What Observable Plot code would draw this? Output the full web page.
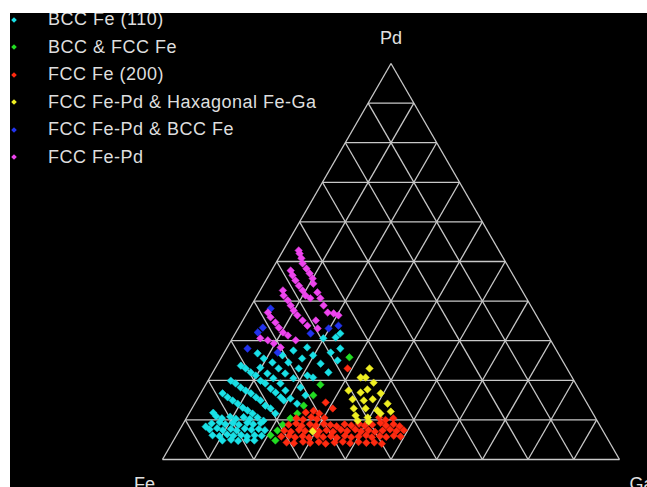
<!DOCTYPE html>
<html><head><meta charset="utf-8">
<script src="https://cdn.jsdelivr.net/npm/d3@7"></script>
<script src="https://cdn.jsdelivr.net/npm/@observablehq/plot@0.6"></script>
<style>
html,body{margin:0;padding:0;background:#fff;}
#wrap{position:absolute;left:10px;top:13px;width:637px;height:474px;background:#000;overflow:hidden;}
#chart svg{display:block;}
#legend{position:absolute;left:0;top:-7px;font-family:"Liberation Sans",Arial,sans-serif;font-size:18px;letter-spacing:0.5px;color:#dedede;}
.row{height:27.5px;line-height:27.5px;position:relative;white-space:nowrap;}
.mk{position:absolute;left:2px;top:11.5px;width:4px;height:4px;transform:rotate(45deg);}
.lb{position:absolute;left:38px;top:0;}
</style></head><body>
<div id="wrap"><div id="chart"></div><div id="legend"></div></div>
<script>
// Phases (legend order) and their colours
const categories = ["BCC Fe (110)", "BCC & FCC Fe", "FCC Fe (200)", "FCC Fe-Pd & Haxagonal Fe-Ga", "FCC Fe-Pd & BCC Fe", "FCC Fe-Pd"];
const colors = ["#19e0e6", "#22dd22", "#ff2a10", "#eeee22", "#2233ee", "#ee44ee"];

// Grid tick values (at.%)
const ticks = [0, 10, 20, 30, 40, 50, 60, 70, 80, 90];

// Corner labels
const corners = [{label: "Pd", Pd: 100, Ga: 0}, {label: "Fe", Pd: 0, Ga: 0}, {label: "Ga", Pd: 0, Ga: 100}];

// Compositions [Pd at.%, Ga at.%] (Fe = balance)
const bccFe110 = [
  [30.6,19.9],[30.8,22.5],[28.0,24.9],[28.3,17.5],[26.3,19.8],[27.0,23.3],[27.5,14.9],[25.5,17.8],[24.2,22.5],[22.0,25.3],
  [25.0,25.8],[26.3,13.1],[24.5,15.3],[23.0,18.3],[21.2,21.1],[20.7,22.6],[24.5,11.8],[23.0,13.9],[21.7,16.0],[20.5,18.4],
  [18.2,21.1],[16.2,23.2],[23.2,9.8],[21.7,12.1],[20.5,14.0],[19.2,16.2],[17.4,18.2],[15.4,20.3],[14.1,22.4],[26.8,7.4],
  [25.5,9.4],[31.8,23.0],
  [23.7,5.3],[23.0,6.7],[22.0,8.3],[21.2,9.8],[19.9,11.5],[19.2,12.9],[17.9,14.7],[16.9,16.3],[15.7,18.0],[14.9,19.1],
  [19.9,5.0],[19.2,6.4],[18.2,8.0],[17.4,9.5],[16.7,11.0],[15.7,12.6],[14.9,14.0],[13.6,15.7],[12.9,17.2],[11.6,18.9],
  [16.7,4.8],[15.7,6.4],[14.9,7.9],[14.1,9.4],[13.1,11.0],[12.4,12.4],[11.6,13.9],[10.6,15.5],[9.8,17.2],
  [10.9,6.3],[10.4,7.8],[10.8,9.4],[10.3,10.9],[10.7,12.4],[10.2,14.0],[11.8,5.2],[8.3,5.3],
  [9.1,6.2],[9.4,7.8],[8.9,9.3],[9.2,10.8],[8.8,12.3],[9.3,13.9],[8.9,15.4],[9.2,16.9],
  [7.6,6.5],[7.9,8.0],[7.4,9.5],[7.7,11.1],[7.3,12.6],[7.8,14.1],[7.5,15.7],[7.7,17.2],[7.4,18.7],
  [6.1,7.9],[5.9,9.5],[6.3,11.0],[6.0,12.5],[6.2,14.1],[5.8,15.6],[6.1,17.1],[6.0,18.7],
  [4.8,10.7],[5.0,12.5],[4.7,14.2],[4.9,16.0],[4.8,17.7]
];
const bccFccFe = [
  [25.8,28.0],[18.9,25.1],[16.2,24.9],[13.6,24.1],[11.6,23.7],[7.3,21.5],[8.8,21.9],[4.8,22.3],[6.1,20.6],[10.4,22.8]
];
const fccFe200 = [
  [23.0,29.0],[14.4,28.5],[12.9,30.8],
  [11.9,25.4],[12.3,26.9],[11.6,28.5],
  [10.4,24.1],[10.1,25.7],[10.7,27.2],[10.2,28.7],[10.5,30.2],[10.6,42.1],[10.0,43.8],[10.4,45.3],
  [8.8,23.2],[9.1,24.7],[8.5,26.2],[8.9,27.8],[8.6,29.3],[9.0,30.8],[8.7,32.4],[8.4,33.9],[8.9,35.4],[8.6,37.0],
  [9.0,38.5],[8.5,40.0],[8.8,41.5],[9.2,43.1],[8.6,44.6],[8.9,46.1],[8.4,47.7],
  [7.3,23.0],[7.0,24.6],[7.5,26.1],[7.2,27.6],[7.6,29.2],[7.1,30.7],[7.4,32.2],[7.0,33.8],[7.5,35.3],[7.2,36.8],
  [7.6,38.4],[7.1,39.9],[7.4,41.4],[7.0,43.0],[7.3,44.5],[7.6,46.0],[7.2,47.6],[7.4,49.1],
  [5.8,23.1],[6.0,24.7],[5.6,26.2],[5.9,27.7],[5.5,29.3],[6.1,30.8],[5.7,32.3],[5.9,33.9],[5.5,35.4],[6.0,36.9],
  [5.6,38.5],[5.8,40.0],[6.1,41.5],[5.6,43.0],[5.9,44.6],[5.7,46.1],[6.0,47.6],[5.8,49.2],
  [4.3,25.0],[4.1,26.7],[4.5,28.5],[4.2,30.2],[4.4,32.0],[4.0,33.7],[4.3,35.5],[4.5,37.2],[4.1,39.0],[4.4,40.7],
  [4.2,42.5],[4.3,44.2],[4.0,46.0]
];
const fccFePdHexFeGa = [
  [23.0,33.8],[20.7,33.0],[20.7,34.1],[19.4,36.5],[17.4,32.0],[16.9,34.9],[17.7,36.0],[16.7,39.4],[15.2,34.0],[14.9,36.6],
  [15.2,38.4],[14.1,42.2],[12.9,35.4],[12.9,38.0],[12.4,40.8],[12.1,43.9],[11.1,36.7],[10.6,39.6],[11.6,41.9],[9.8,37.8],
  [9.6,40.3],[7.1,29.3]
];
const fccFePdBccFe = [
  [38.1,4.6],[33.3,5.3],[32.1,4.8],[28.0,4.6],[31.8,16.5],[33.1,19.8],[33.8,21.6],[27.0,11.7]
];
const fccFePd = [
  [52.8,3.4],[52.0,4.0],[50.8,5.0],[49.5,5.9],[48.2,7.4],[47.0,8.7],[45.7,10.0],
  [47.7,4.2],[46.5,5.2],[45.2,6.5],[43.9,7.9],[42.7,9.3],[41.4,10.6],[40.7,12.0],
  [44.4,10.8],[42.2,12.8],[40.7,14.2],[38.9,15.8],[37.1,17.6],[36.9,19.0],[36.4,20.3],
  [42.7,5.0],[41.4,5.8],[40.2,7.3],[38.9,8.6],[37.6,9.9],[36.4,11.3],[35.1,13.1],[33.8,14.8],[35.1,16.0],[33.1,17.4],
  [37.1,4.5],[35.9,5.7],[34.6,7.4],[33.3,8.8],[32.1,10.3],[31.3,11.8],[30.1,14.1],
  [30.6,6.1],[30.1,8.0],[29.3,9.7],[28.3,11.7]
];

const series = [bccFe110, bccFccFe, fccFe200, fccFePdHexFeGa, fccFePdBccFe, fccFePd];
const points = series.flatMap((arr, i) => arr.map(([Pd, Ga]) => ({phase: categories[i], Pd, Ga})));

const tx = d => d.Ga + d.Pd / 2;
const gridStyle = {stroke: "#c8c8c8", strokeWidth: 1.3};
const font = "'Liberation Sans', Arial, sans-serif";

const chart = Plot.plot({
  width: 637,
  height: 474,
  x: {domain: [0, 100], range: [152, 609], axis: null},
  y: {domain: [0, 100], range: [446, 50], axis: null},
  color: {domain: categories, range: colors},
  style: {background: "#000", overflow: "visible"},
  marks: [
    // lines of constant Pd
    Plot.link(ticks, {x1: t => t / 2, y1: t => t, x2: t => 100 - t / 2, y2: t => t, ...gridStyle}),
    // lines of constant Ga
    Plot.link(ticks, {x1: t => t, y1: t => 0, x2: t => t + (100 - t) / 2, y2: t => 100 - t, ...gridStyle}),
    // lines of constant Fe
    Plot.link(ticks, {x1: t => 100 - t, y1: t => 0, x2: t => (100 - t) / 2, y2: t => 100 - t, ...gridStyle}),
    Plot.dot(points, {x: tx, y: "Pd", fill: "phase", stroke: "phase", strokeWidth: 0.8, strokeOpacity: 0.6, symbol: "diamond2", r: 3.4}),
    Plot.text(corners.slice(0, 1), {x: tx, y: "Pd", text: "label", dy: -25, fill: "#e0e0e0", fontSize: 18, fontFamily: font}),
    Plot.text(corners.slice(1, 2), {x: tx, y: "Pd", text: "label", dx: -18, dy: 25, fill: "#e0e0e0", fontSize: 18, fontFamily: font}),
    Plot.text(corners.slice(2, 3), {x: tx, y: "Pd", text: "label", dx: 10, dy: 25, textAnchor: "start", fill: "#e0e0e0", fontSize: 18, fontFamily: font})
  ]
});
document.getElementById("chart").appendChild(chart);

// Legend overlay
const leg = d3.select("#legend");
const rows = leg.selectAll("div.row").data(categories).join("div").attr("class", "row");
rows.append("div").attr("class", "mk").style("background", (d, i) => colors[i]);
rows.append("div").attr("class", "lb").text(d => d);
</script>
</body></html>
